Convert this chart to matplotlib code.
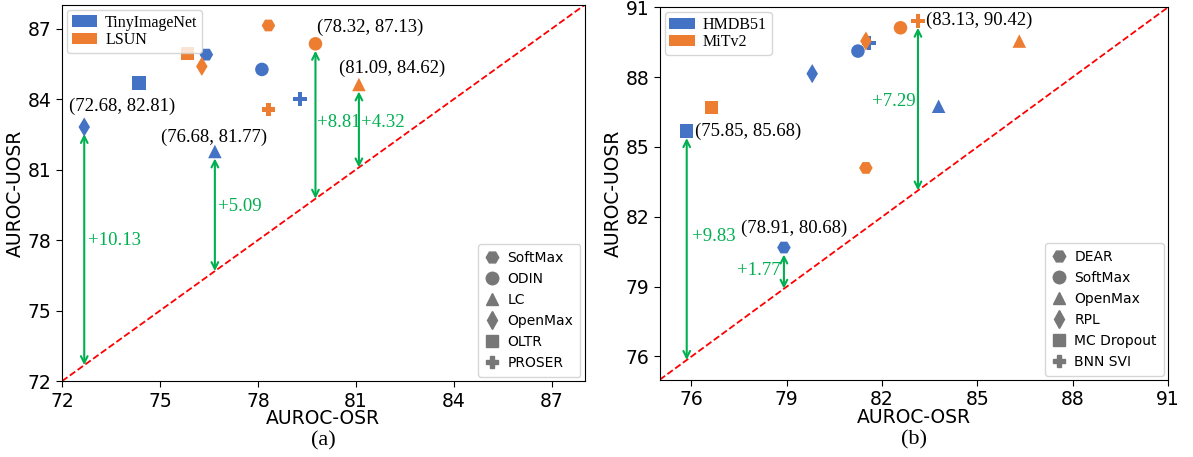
import matplotlib
matplotlib.use("Agg")
import matplotlib.pyplot as plt
from matplotlib.patches import Patch
from matplotlib.lines import Line2D

BLUE = "#4472C4"
ORANGE = "#ED7D31"
GREEN = "#00B050"
GREY = "#777777"
SERIF = "Liberation Serif"

# ---- (a) image datasets ----
methods_a = ["SoftMax", "ODIN", "LC", "OpenMax", "OLTR", "PROSER"]
markers_a = ["H", "o", "^", "d", "s", "P"]
tin_osr = [76.42, 78.12, 76.68, 72.68, 74.36, 79.28]
tin_uosr = [85.89, 85.26, 81.77, 82.81, 84.68, 84.00]
lsun_osr = [78.32, 79.76, 81.09, 76.28, 75.84, 78.32]
lsun_uosr = [87.13, 86.35, 84.62, 85.39, 85.93, 83.56]

# ---- (b) video datasets ----
methods_b = ["DEAR", "SoftMax", "OpenMax", "RPL", "MC Dropout", "BNN SVI"]
markers_b = ["H", "o", "^", "d", "s", "P"]
hmdb_osr = [78.91, 81.24, 83.78, 79.80, 75.85, 81.59]
hmdb_uosr = [80.68, 89.12, 86.75, 88.15, 85.68, 89.46]
mit_osr = [81.49, 82.58, 86.32, 81.49, 76.63, 83.13]
mit_uosr = [84.10, 90.12, 89.55, 89.55, 86.69, 90.42]

ticks_a = [72, 75, 78, 81, 84, 87]
ticks_b = [76, 79, 82, 85, 88, 91]

# (x, y_top, gap label, label x, label y)
arrows_a = [(72.68, 82.81, "+10.13", 72.78, 78.0),
            (76.68, 81.77, "+5.09", 76.78, 79.45),
            (79.76, 86.35, "+8.81", 79.80, 83.0),
            (81.09, 84.62, "+4.32", 81.16, 83.0)]
arrows_b = [(75.85, 85.68, "+9.83", 76.02, 81.15),
            (78.91, 80.68, "+1.77", 77.43, 79.7),
            (83.13, 90.42, "+7.29", 81.68, 86.95)]

# (text, x, y, horizontal alignment)
notes_a = [("(72.68, 82.81)", 73.83, 83.7, "center"),
           ("(76.68, 81.77)", 76.66, 82.38, "center"),
           ("(78.32, 87.13)", 79.81, 87.04, "left"),
           ("(81.09, 84.62)", 82.10, 85.29, "center")]
notes_b = [("(75.85, 85.68)", 76.12, 85.68, "left"),
           ("(78.91, 80.68)", 79.24, 81.5, "center"),
           ("(83.13, 90.42)", 83.38, 90.42, "left")]


def draw_panel(ax, lims, ticks, sets, methods, markers, arrows, notes, names, tag):
    lo, hi = lims
    ax.plot([lo, hi], [lo, hi], ls="--", color="red", lw=1.3, zorder=1)
    for xs, ys, col in sets:
        for i in range(len(xs)):
            ax.scatter(xs[i], ys[i], marker=markers[i], s=95, color=col,
                       edgecolors="none", zorder=3)
    for x, ytop, lab, lx, ly in arrows:
        ax.annotate("", xy=(x, ytop), xytext=(x, x),
                    arrowprops=dict(arrowstyle="<->", color=GREEN, lw=1.5,
                                    shrinkA=0, shrinkB=5, mutation_scale=12),
                    zorder=2)
        ax.text(lx, ly, lab, color=GREEN, fontsize=13.5, family=SERIF,
                va="center", ha="left")
    for txt, x, y, ha in notes:
        ax.text(x, y, txt, fontsize=13.5, family=SERIF, ha=ha, va="center")

    ax.set_xlim(lo, hi)
    ax.set_ylim(lo, hi)
    ax.set_xticks(ticks)
    ax.set_yticks(ticks)
    ax.tick_params(labelsize=13.5, length=4)
    ax.set_xlabel("AUROC-OSR", fontsize=13.5, labelpad=-1)
    ax.set_ylabel("AUROC-UOSR", fontsize=13.5, labelpad=2)
    ax.text(0.5, -0.16, tag, transform=ax.transAxes, ha="center", va="center",
            fontsize=16, family=SERIF)

    # dataset legend (colours)
    dhandles = [Patch(facecolor=BLUE, edgecolor="none"),
                Patch(facecolor=ORANGE, edgecolor="none")]
    leg1 = ax.legend(dhandles, names, loc="upper left", prop={"family": SERIF, "size": 11.5},
                     handlelength=1.6, handleheight=0.7, borderpad=0.3,
                     labelspacing=0.1, handletextpad=0.5, borderaxespad=0.3)
    ax.add_artist(leg1)

    # method legend (shapes)
    mhandles = [Line2D([], [], ls="none", marker=m, color=GREY, markersize=9)
                for m in markers]
    ax.legend(mhandles, methods, loc="lower right", fontsize=10,
              handlelength=1.0, labelspacing=0.5, borderpad=0.5,
              handletextpad=0.6, borderaxespad=0.3)


fig = plt.figure(figsize=(11.93, 4.57), dpi=100)
ax1 = fig.add_axes([0.052, 0.166, 0.438, 0.823])
ax2 = fig.add_axes([0.553, 0.169, 0.426, 0.815])

draw_panel(ax1, (72, 88), ticks_a,
           [(tin_osr, tin_uosr, BLUE), (lsun_osr, lsun_uosr, ORANGE)],
           methods_a, markers_a, arrows_a, notes_a, ["TinyImageNet", "LSUN"], "(a)")
draw_panel(ax2, (75, 91), ticks_b,
           [(hmdb_osr, hmdb_uosr, BLUE), (mit_osr, mit_uosr, ORANGE)],
           methods_b, markers_b, arrows_b, notes_b, ["HMDB51", "MiTv2"], "(b)")

fig.savefig("out.png", dpi=100)
